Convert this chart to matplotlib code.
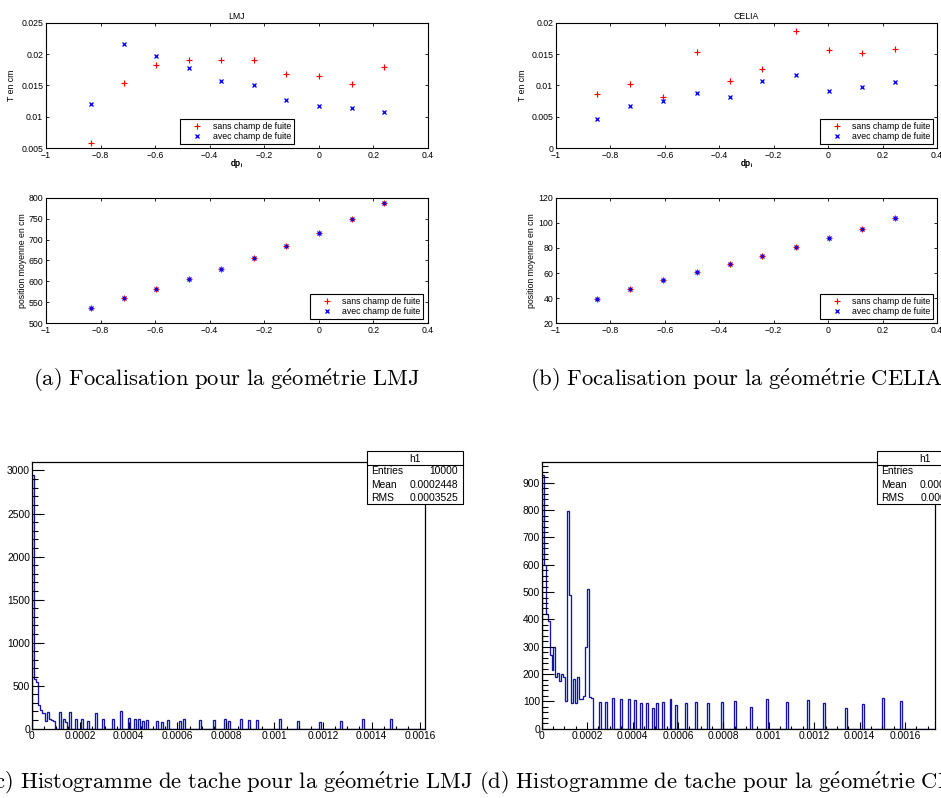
import numpy as np
import matplotlib
matplotlib.use("Agg")
import matplotlib.pyplot as plt
from matplotlib.patches import Rectangle
from matplotlib.lines import Line2D
from matplotlib.ticker import FuncFormatter, MultipleLocator, AutoMinorLocator

plt.rcParams["font.family"] = ["Liberation Sans", "DejaVu Sans"]
plt.rcParams["mathtext.fontset"] = "cm"

W, H = 941, 798

#------------------------------------
# focalisation data
#------------------------------------
dp_lmj = [-0.835, -0.715, -0.596, -0.476, -0.357, -0.238, -0.119, 0.0, 0.12, 0.24]
T_lmj_sans = [0.0058, 0.0154, 0.0182, 0.0191, 0.0191, 0.0191, 0.0168, 0.0165, 0.0153, 0.0180]
T_lmj_avec = [0.0121, 0.0216, 0.0197, 0.0178, 0.0157, 0.0151, 0.0127, 0.0117, 0.0114, 0.0108]
pos_lmj_sans = [535.8, 559.7, 582.0, 605.0, 630.5, 656.8, 684.6, 715.6, 749.0, 786.5]
pos_lmj_avec = [535.8, 559.7, 582.0, 605.0, 630.5, 656.8, 684.6, 715.6, 749.0, 786.5]

dp_celia = [-0.849, -0.727, -0.606, -0.483, -0.362, -0.242, -0.119, 0.002, 0.124, 0.244]
T_celia_sans = [0.0087, 0.0102, 0.0082, 0.0153, 0.0107, 0.0127, 0.0186, 0.0156, 0.0151, 0.0158]
T_celia_avec = [0.0047, 0.0068, 0.0076, 0.0088, 0.0082, 0.0107, 0.0117, 0.0091, 0.0097, 0.0105]
pos_celia_sans = [39.4, 47.6, 54.5, 60.8, 67.2, 73.8, 80.5, 87.6, 95.3, 103.8]
pos_celia_avec = [39.4, 47.6, 54.5, 60.8, 67.2, 73.8, 80.5, 87.6, 95.3, 103.8]

#------------------------------------
# histogram data: first contiguous bins, then isolated spikes
#------------------------------------
lmj_nbins, lmj_xmax = 200, 0.00162
lmj_first = [2950, 575, 540, 275, 215, 185, 178, 95, 195, 115, 105, 90]
lmj_spike_x = [0.000117, 0.000133, 0.000144, 0.000158, 0.000183, 0.000207, 0.000229,
               0.000264, 0.000295, 0.000334, 0.000368, 0.000402, 0.000426, 0.000444,
               0.000457, 0.000474, 0.000515, 0.000540, 0.000563, 0.000609, 0.000628,
               0.000694, 0.000749, 0.000797, 0.000815, 0.000861, 0.000897, 0.000929,
               0.001026, 0.001099, 0.001188, 0.001277, 0.001367, 0.001481]
lmj_spike_n = [197, 108, 81, 197, 108, 108, 89, 185, 108, 108, 205, 120, 116, 116, 89,
               100, 89, 77, 100, 93, 116, 100, 100, 112, 85, 108, 100, 100, 108, 93,
               77, 93, 112, 108]
lmj_stats = [("Entries", "10000"), ("Mean", "0.0002448"), ("RMS", "0.0003525")]

celia_nbins, celia_xmax = 200, 0.001732
celia_first = [930, 600, 420, 395, 270, 215, 300, 190, 205, 175, 200, 188, 102, 798,
               490, 93, 182, 95, 190, 108, 107, 120, 298, 511, 115, 112]
celia_spike_x = [0.000257, 0.000280, 0.000317, 0.000352, 0.000386, 0.000411, 0.000437,
                 0.000464, 0.000489, 0.000506, 0.000533, 0.000570, 0.000594, 0.000640,
                 0.000683, 0.000734, 0.000793, 0.000856, 0.000925, 0.000992, 0.001080,
                 0.001176, 0.001245, 0.001342, 0.001418, 0.001505, 0.001584]
celia_spike_n = [96, 96, 113, 108, 108, 105, 93, 93, 75, 93, 99, 108, 87, 95, 98, 95,
                 96, 100, 80, 107, 99, 104, 95, 77, 91, 111, 102]
celia_stats = [("Entries", "10000"), ("Mean", "0.0003874"), ("RMS", "0.0004116")]

captions = [
    (33, 380, "left", r"$\mathrm{(a)\ Focalisation\ pour\ la\ g\acute{e}om\acute{e}trie\ LMJ}$"),
    (530, 380, "left", r"$\mathrm{(b)\ Focalisation\ pour\ la\ g\acute{e}om\acute{e}trie\ CELIA}$"),
    (473, 783, "right", r"$\mathrm{(c)\ Histogramme\ de\ tache\ pour\ la\ g\acute{e}om\acute{e}trie\ LMJ}$"),
    (479, 783, "left", r"$\mathrm{(d)\ Histogramme\ de\ tache\ pour\ la\ g\acute{e}om\acute{e}trie\ CELIA}$"),
]

fig = plt.figure(figsize=(W / 100, H / 100), dpi=100)


def px_axes(l, t, r, b):
    return fig.add_axes([l / W, 1 - b / H, (r - l) / W, (b - t) / H])


def mfmt(v, pos):
    if abs(v) < 1e-12:
        return "0"
    return ("%g" % round(v, 6)).replace("-", "\u2212")


fs = 6.3
def matlab_panel(box, x, ys, ya, ylim, ystep, ylabel, ylab_x, title, legloc, legxy):
    l, t, r, b = box
    ax = px_axes(l, t, r, b)
    ax.plot(x, ys, "+", color="red", ms=4.8, mew=0.85, label="sans champ de fuite")
    ax.plot(x, ya, "x", color="blue", ms=3.3, mew=0.95, label="avec champ de fuite")
    ax.set_xlim(-1, 0.4)
    ax.set_ylim(*ylim)
    ax.xaxis.set_major_locator(MultipleLocator(0.2))
    ax.yaxis.set_major_locator(MultipleLocator(ystep))
    ax.xaxis.set_major_formatter(FuncFormatter(mfmt))
    ax.yaxis.set_major_formatter(FuncFormatter(mfmt))
    ax.tick_params(direction="in", top=True, right=True, length=2.4, width=0.6,
                   labelsize=fs, pad=2.0)
    for s in ax.spines.values():
        s.set_linewidth(0.8)
    ax.set_xlabel("dp$_\\mathregular{i}$", fontsize=fs)
    ax.xaxis.set_label_coords(0.5, -(163 - b) / (b - t))
    ax.xaxis.label.set_va("center")
    ax.set_ylabel(ylabel, fontsize=fs)
    ax.yaxis.set_label_coords((ylab_x - l) / (r - l), 0.5)
    ax.yaxis.label.set_va("center")
    if title:
        ax.set_title(title, fontsize=fs, pad=2.5)
    leg = ax.legend(loc=legloc, bbox_to_anchor=legxy, fontsize=fs, borderaxespad=0,
                    handlelength=3.3, handletextpad=0.12, borderpad=0.3,
                    labelspacing=0.2, fancybox=False, framealpha=1)
    leg.get_frame().set_edgecolor("black")
    leg.get_frame().set_linewidth(0.8)
    return ax


matlab_panel((46, 22.7, 428, 148.3), dp_lmj, T_lmj_sans, T_lmj_avec, (0.005, 0.025), 0.005,
             "T en cm", 12, "LMJ", "lower center", (0.5, 0.034))
matlab_panel((46, 197.7, 428, 323.3), dp_lmj, pos_lmj_sans, pos_lmj_avec, (500, 800), 50,
             "position moyenne en cm", 23, None, "lower right", (0.987, 0.034))
matlab_panel((556, 22.7, 937, 148.3), dp_celia, T_celia_sans, T_celia_avec, (0, 0.02), 0.005,
             "T en cm", 522.7, "CELIA", "lower right", (0.99, 0.034))
matlab_panel((556, 197.7, 937, 323.3), dp_celia, pos_celia_sans, pos_celia_avec, (20, 120), 20,
             "position moyenne en cm", 531.7, None, "lower right", (0.99, 0.034))

hcol = "#1414a8"
hfs = 7.4


def root_hist(box, nbins, xmax, first, sx, sn, ymax, ymajor, stats, sbox):
    l, t, r, b = box
    ax = px_axes(l, t, r, b)
    counts = np.zeros(nbins)
    counts[:len(first)] = first
    w = xmax / nbins
    for xv, nv in zip(sx, sn):
        counts[int(xv / w)] = nv
    edges = np.linspace(0, xmax, nbins + 1)
    ax.stairs(counts, edges, color=hcol, lw=0.95)
    ax.set_xlim(0, xmax)
    ax.set_ylim(0, ymax)
    ax.xaxis.set_major_locator(MultipleLocator(0.0002))
    ax.xaxis.set_minor_locator(AutoMinorLocator(4))
    ax.yaxis.set_major_locator(MultipleLocator(ymajor))
    ax.yaxis.set_minor_locator(AutoMinorLocator(5))
    ax.xaxis.set_major_formatter(FuncFormatter(lambda v, p: "%g" % round(v, 7)))
    ax.yaxis.set_major_formatter(FuncFormatter(lambda v, p: "%d" % round(v)))
    ax.tick_params(axis="both", which="both", direction="in", width=0.8, labelsize=hfs)
    ax.tick_params(axis="y", which="major", length=8.3, pad=1.2)
    ax.tick_params(axis="y", which="minor", length=4.2)
    ax.tick_params(axis="x", which="major", length=5, pad=2)
    ax.tick_params(axis="x", which="minor", length=2.5)
    for s in ax.spines.values():
        s.set_linewidth(0.9)

    # stat box
    x0, x1, y0, y1 = sbox
    fig.add_artist(Rectangle(((x0 + 1.2) / W, 1 - (y1 + 1.2) / H), (x1 - x0) / W, (y1 - y0) / H,
                             transform=fig.transFigure, fc="#555555", ec="none"))
    fig.add_artist(Rectangle((x0 / W, 1 - y1 / H), (x1 - x0) / W, (y1 - y0) / H,
                             transform=fig.transFigure, fc="white", ec="black", lw=0.8))
    fig.add_artist(Line2D([x0 / W, x1 / W], [1 - 465 / H, 1 - 465 / H],
                          transform=fig.transFigure, color="black", lw=0.8))
    fig.text((x0 + x1) / 2 / W, 1 - 458.5 / H, "h1", ha="center", va="center", fontsize=hfs)
    for k, (lab, val) in enumerate(stats):
        yy = 1 - (471.5 + 13.2 * k) / H
        fig.text((x0 + 4) / W, yy, lab, ha="left", va="center", fontsize=hfs)
        fig.text((x1 - 5) / W, yy, val, ha="right", va="center", fontsize=hfs)
    return ax


root_hist((31.7, 462.3, 425, 728.7), lmj_nbins, lmj_xmax, lmj_first, lmj_spike_x, lmj_spike_n,
          3095, 500, lmj_stats, (367, 463, 451, 504))
root_hist((541.7, 462.3, 935, 728.7), celia_nbins, celia_xmax, celia_first, celia_spike_x,
          celia_spike_n, 975, 100, celia_stats, (877, 973, 451, 504))

for cx, cy, ha, txt in captions:
    fig.text(cx / W, 1 - cy / H, txt, ha=ha, va="center", fontsize=16.3)

plt.savefig("out.png", dpi=100)
